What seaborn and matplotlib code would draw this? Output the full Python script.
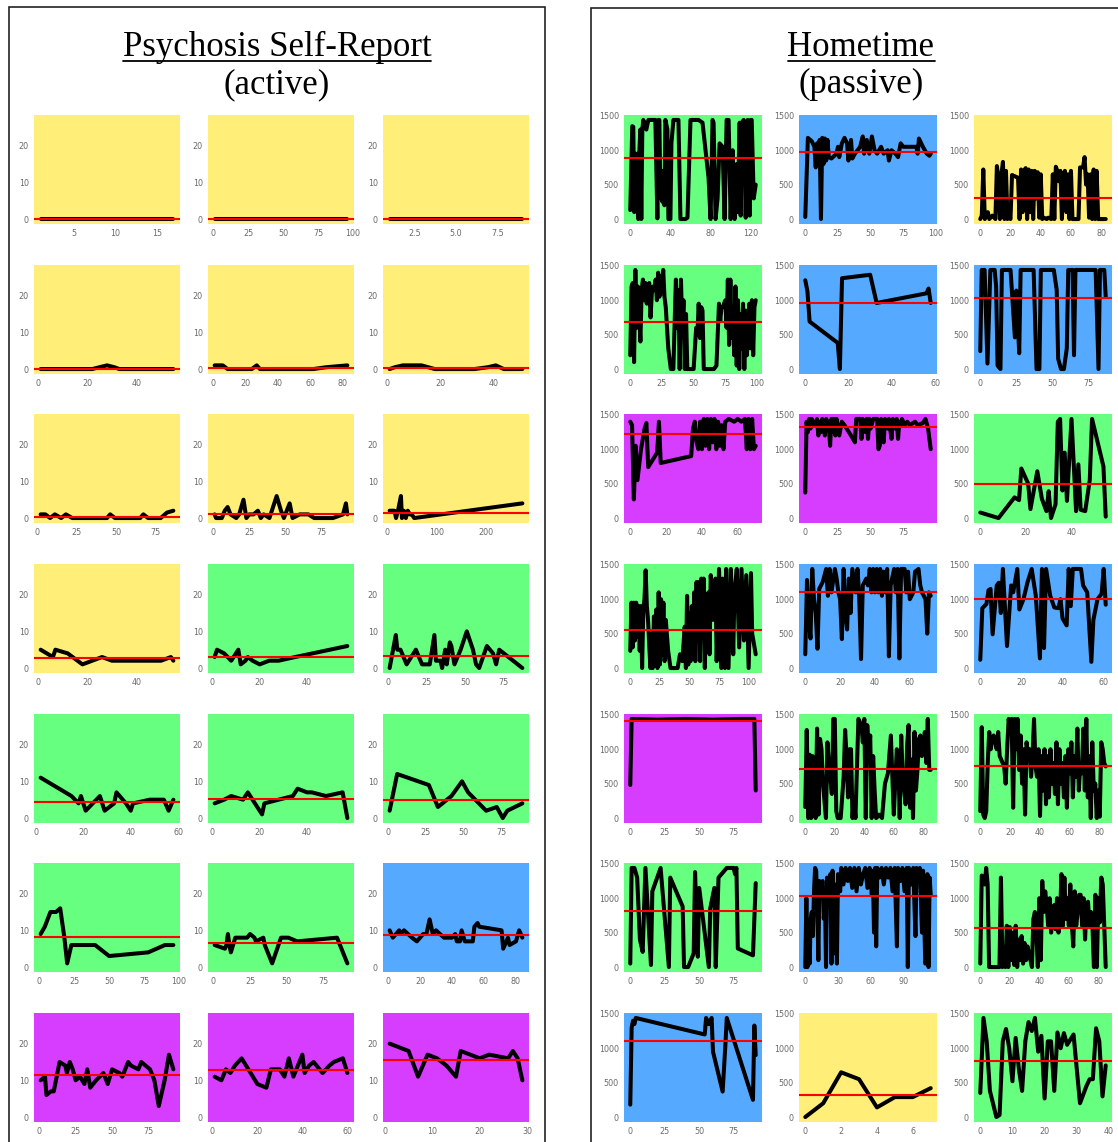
import matplotlib
matplotlib.use("Agg")
import matplotlib.pyplot as plt
import seaborn as sns
from matplotlib.lines import Line2D
from matplotlib.patches import Rectangle

W, H, DPI = 1118, 1142, 100

# ---------------- colours (status of each participant panel) ----------------
YEL, GRN, BLU, MAG = "#FFEE78", "#66FF80", "#55AAFF", "#D63DFF"

left_title = ["Psychosis Self-Report", "(active)"]
right_title = ["Hometime", "(passive)"]

# ---------------- Psychosis self-report series (day, score) -----------------
p11 = [(1, 0), (17, 0)]
p12 = [(1, 0), (96, 0)]
p13 = [(1, 0), (9, 0)]
p21 = [(1, 0), (22, 0), (25, 0.5), (28, 1), (31, 0.5), (33, 0), (55, 0)]
p22 = [(1, 1), (6, 1), (9, 0), (12, 0), (24, 0), (27, 1), (29, 0), (62, 0), (70, 0.5), (83, 1)]
p23 = [(1, 0), (3, 0.5), (6, 1), (13, 1), (18, 0), (33, 0), (38, 0.5), (41, 1), (44, 0), (51, 0)]
p31 = [(2, 1), (5, 1), (8, 0), (11, 1), (15, 0), (18, 1), (22, 0), (44, 0), (46, 1), (49, 0),
       (65, 0), (67, 1), (70, 0), (78, 0), (82, 1.5), (86, 2)]
p32 = [(1, 1), (2, 0), (6, 0), (8, 2), (10, 3), (12, 1), (16, 0), (18, 1), (21, 5), (23, 0),
       (25, 1), (28, 1), (31, 2), (33, 0), (35, 1), (39, 0), (44, 6), (47, 2), (49, 0), (53, 4),
       (55, 0), (60, 1), (66, 1), (70, 0), (83, 0), (90, 1), (92, 4), (93, 1)]
p33 = [(5, 2), (10, 2), (15, 2), (18, 0), (22, 2), (28, 6), (30, 0), (34, 2), (38, 0), (42, 2),
       (46, 1), (50, 1), (55, 0), (275, 4)]
p41 = [(1, 5), (6, 3), (7, 5), (12, 4), (18, 1), (22, 2), (26, 3), (30, 2), (40, 2), (50, 2),
       (54, 3), (55, 2)]
p42 = [(1, 3), (2, 5), (5, 4), (8, 2), (11, 5), (12, 1), (14, 2), (15, 3), (17, 2), (20, 1),
       (24, 2), (28, 2), (35, 3), (57, 6)]
p43 = [(1, 0), (5, 9), (6, 5), (8, 5), (12, 1), (15, 3), (18, 5), (20, 3), (22, 1), (27, 1),
       (30, 9), (31, 2), (34, 2), (35, 0), (37, 5), (38, 1), (40, 7), (41, 6), (43, 1), (47, 5),
       (51, 10), (55, 5), (57, 1), (59, 0), (64, 6), (68, 4), (70, 1), (72, 5), (75, 4), (87, 0)]
p51 = [(2, 11), (15, 6), (18, 4), (19, 6), (21, 2), (24, 4), (27, 6), (29, 2), (33, 4), (34, 7),
       (38, 4), (40, 2), (41, 4), (48, 5), (54, 5), (56, 2), (58, 5)]
p52 = [(1, 4), (5, 5), (8, 6), (13, 5), (15, 7), (18, 4), (21, 1), (22, 4), (28, 5), (34, 6),
       (36, 8), (40, 7), (42, 7), (48, 6), (55, 7), (57, 0)]
p53 = [(1, 2), (6, 12), (27, 9), (33, 3), (42, 6), (49, 10), (53, 7), (65, 2), (72, 3), (76, 0),
       (79, 2), (89, 4)]
p61 = [(1, 9), (4, 11), (8, 15), (12, 15), (15, 16), (18, 8), (20, 1), (23, 6), (40, 6), (50, 3),
       (78, 4), (90, 6), (96, 6)]
p62 = [(1, 6), (8, 5), (9, 6), (10, 9), (11, 6), (12, 4), (15, 8), (23, 8), (25, 9), (28, 8),
       (29, 7), (34, 8), (35, 6), (40, 1), (46, 8), (51, 8), (57, 7), (84, 8), (91, 1)]
p63 = [(1, 10), (3, 8), (7, 10), (8, 9), (10, 10), (15, 8), (18, 7), (22, 9), (24, 9), (26, 13),
       (28, 9), (30, 10), (35, 8), (40, 8), (42, 9), (43, 7), (45, 7), (46, 10), (48, 7), (53, 7),
       (54, 11), (56, 12), (57, 11), (71, 10), (72, 5), (75, 8), (76, 6), (80, 7), (82, 10), (84, 8)]
p71 = [(1, 10), (4, 11), (5, 6), (8, 7), (10, 7), (14, 15), (18, 14), (19, 12), (21, 15), (23, 13),
       (25, 10), (28, 11), (31, 9), (33, 13), (35, 8), (39, 10), (44, 12), (47, 9), (50, 13), (55, 12),
       (57, 11), (61, 15), (63, 14), (68, 13), (70, 15), (76, 13), (79, 10), (82, 3), (86, 10),
       (89, 17), (92, 13)]
p72 = [(1, 11), (4, 10), (6, 13), (8, 12), (10, 14), (13, 16), (16, 13), (20, 9), (24, 8), (26, 13),
       (30, 13), (32, 11), (34, 16), (36, 11), (40, 17), (41, 12), (43, 14), (45, 15), (49, 12),
       (52, 14), (54, 15), (58, 16), (60, 12)]
p73 = [(1, 20), (5, 18), (7, 11), (9, 17), (11, 16), (13, 14), (15, 11), (16, 18), (18, 17),
       (20, 16), (22, 17), (26, 16), (27, 18), (28, 16), (29, 10)]

psr_series = [p11, p12, p13, p21, p22, p23, p31, p32, p33, p41, p42, p43,
              p51, p52, p53, p61, p62, p63, p71, p72, p73]
psr_means = [0, 0, 0, 0.1, 0.3, 0.4, 0.4, 1.2, 1.4, 2.7, 3.0, 3.2,
             4.4, 5.2, 5.0, 8.2, 6.5, 8.8, 11.4, 12.8, 15.6]
psr_colors = [YEL, YEL, YEL, YEL, YEL, YEL, YEL, YEL, YEL, YEL, GRN, GRN,
              GRN, GRN, GRN, GRN, GRN, BLU, MAG, MAG, MAG]
psr_xticks = [[5, 10, 15], [0, 25, 50, 75, 100], [2.5, 5.0, 7.5],
              [0, 20, 40], [0, 20, 40, 60, 80], [0, 20, 40],
              [0, 25, 50, 75], [0, 25, 50, 75], [0, 100, 200],
              [0, 20, 40], [0, 20, 40], [0, 25, 50, 75],
              [0, 20, 40, 60], [0, 20, 40], [0, 25, 50, 75],
              [0, 25, 50, 75, 100], [0, 25, 50, 75], [0, 20, 40, 60, 80],
              [0, 25, 50, 75], [0, 20, 40, 60], [0, 10, 20, 30]]
psr_yticks = [0, 10, 20]
psr_ylim = (-1.35, 28.35)

# ---------------- Hometime series (day, minutes at home) ---------------------
h11 = [(0, 130), (2, 1350), (3, 1340), (4, 100), (5, 950), (6, 150), (7, 950), (8, 0), (9, 950),
       (10, 1300), (11, 0), (12, 1300), (13, 1440), (16, 1300), (18, 1440), (25, 1440), (27, 10),
       (28, 1440), (29, 1440), (30, 300), (31, 700), (32, 250), (33, 700), (34, 200), (35, 1440),
       (37, 1300), (38, 0), (40, 0), (41, 1100), (43, 1440), (48, 1440), (50, 0), (55, 0), (57, 20),
       (60, 1440), (68, 1440), (72, 1400), (78, 600), (80, 0), (82, 1440), (83, 1400), (85, 0),
       (87, 300), (89, 1100), (92, 1050), (94, 0), (96, 1440), (98, 1440), (100, 0), (102, 1000),
       (104, 0), (106, 800), (107, 100), (109, 1400), (110, 50), (111, 1400), (113, 1440),
       (115, 20), (117, 1440), (119, 50), (120, 1440), (121, 1440), (123, 300), (125, 500)]
h12 = [(0, 30), (2, 1180), (5, 1130), (7, 1050), (8, 750), (9, 1100), (10, 800), (11, 1150),
       (12, 0), (13, 1180), (14, 800), (15, 1170), (16, 850), (17, 1150), (18, 900), (20, 880),
       (24, 950), (25, 1050), (26, 900), (28, 1100), (30, 1180), (32, 1100), (33, 850), (35, 1150),
       (36, 880), (38, 950), (40, 1000), (42, 1050), (44, 1200), (45, 950), (47, 1150), (49, 950),
       (51, 1200), (53, 1000), (55, 950), (58, 1050), (60, 950), (63, 1000), (64, 850), (66, 1000),
       (69, 950), (71, 900), (73, 1100), (75, 1050), (85, 1050), (86, 950), (87, 1170), (90, 1050),
       (93, 950), (95, 920), (96, 950)]
h13 = [(0, 0), (1, 50), (2, 720), (3, 0), (4, 50), (5, 100), (6, 0), (8, 50), (10, 0), (11, 770),
       (12, 600), (13, 0), (14, 650), (15, 830), (16, 0), (17, 700), (18, 0), (19, 50), (20, 0),
       (21, 640), (23, 620), (25, 600), (26, 0), (27, 720), (28, 100), (29, 700), (30, 740), (31, 0),
       (32, 720), (33, 100), (34, 700), (35, 0), (36, 700), (37, 300), (38, 680), (39, 20),
       (40, 650), (41, 0), (42, 20), (44, 0), (45, 20), (47, 0), (48, 650), (49, 0), (50, 760),
       (51, 700), (52, 550), (53, 700), (54, 0), (55, 600), (56, 700), (57, 100), (58, 650),
       (59, 0), (60, 700), (61, 0), (63, 0), (65, 0), (66, 750), (68, 750), (69, 900), (70, 500),
       (71, 650), (72, 20), (73, 650), (74, 0), (75, 720), (76, 0), (77, 700), (78, 0), (80, 0),
       (82, 0), (83, 0)]
h21 = [(0, 200), (1, 1200), (2, 1250), (3, 100), (4, 1440), (5, 600), (6, 1200), (8, 400),
       (9, 1150), (10, 1300), (11, 1000), (12, 1250), (13, 950), (14, 1200), (15, 1250), (16, 750),
       (17, 1100), (18, 1200), (19, 1150), (20, 1300), (21, 1000), (22, 1400), (23, 1050),
       (24, 1350), (25, 1100), (26, 1440), (27, 1050), (28, 900), (30, 300), (32, 0), (34, 0),
       (36, 1300), (37, 600), (38, 1150), (39, 0), (40, 1300), (41, 600), (42, 1000), (43, 0),
       (44, 800), (45, 0), (47, 0), (50, 0), (52, 600), (53, 500), (54, 950), (55, 450), (56, 900),
       (57, 850), (58, 0), (60, 0), (66, 0), (68, 50), (70, 950), (71, 700), (72, 900), (73, 900),
       (75, 1000), (76, 600), (77, 1300), (78, 350), (79, 1300), (80, 450), (81, 900), (82, 200),
       (83, 1200), (84, 50), (85, 1000), (86, 0), (87, 800), (88, 300), (89, 950), (90, 0),
       (91, 850), (92, 200), (94, 950), (95, 300), (96, 1000), (97, 200), (98, 900), (99, 1000)]
h22 = [(0, 1290), (1, 1130), (2, 690), (15, 380), (16, 0), (17, 1320), (30, 1370), (33, 960),
       (56, 1100), (57, 1170), (58, 960)]
h23 = [(0, 260), (1, 1440), (3, 1440), (5, 80), (7, 1440), (10, 1440), (11, 1200), (12, 50),
       (14, 0), (15, 1440), (21, 1440), (24, 460), (25, 1140), (27, 230), (28, 1440), (37, 1440),
       (39, 0), (41, 0), (42, 1440), (51, 1440), (53, 1150), (54, 150), (56, 0), (58, 0), (60, 300),
       (61, 1440), (64, 1440), (65, 200), (66, 1440), (80, 1440), (82, 0), (83, 1440), (86, 1440),
       (87, 1050)]
h31 = [(0, 1400), (1, 1350), (2, 270), (3, 1050), (4, 550), (6, 1000), (8, 1300), (9, 1380),
       (10, 740), (15, 950), (16, 1400), (17, 800), (34, 900), (35, 1300), (36, 1400), (37, 1100),
       (38, 1000), (39, 1400), (40, 1000), (41, 1440), (42, 1050), (43, 1440), (44, 1000),
       (45, 1440), (46, 1100), (47, 1440), (48, 1000), (49, 1400), (50, 1050), (51, 1350),
       (52, 1000), (53, 1400), (55, 1440), (58, 1400), (60, 1440), (62, 1400), (64, 1440),
       (65, 1000), (66, 1440), (67, 1000), (68, 1440), (69, 1000), (70, 1050)]
h32 = [(0, 370), (1, 1400), (2, 1250), (3, 1440), (4, 1300), (5, 1440), (7, 1350), (9, 1440),
       (10, 1200), (11, 1400), (12, 1250), (13, 1440), (15, 1200), (16, 1440), (18, 1350),
       (19, 1050), (20, 1440), (21, 1250), (22, 1440), (23, 1200), (24, 1440), (26, 1200),
       (28, 1400), (30, 1350), (35, 1200), (38, 1100), (39, 1440), (42, 1440), (43, 1150),
       (44, 1440), (46, 1250), (47, 1440), (48, 1150), (49, 1440), (50, 1300), (52, 1440),
       (55, 1440), (56, 1000), (57, 1050), (58, 1440), (60, 1100), (61, 1440), (63, 1300),
       (64, 1440), (66, 1150), (67, 1440), (69, 1300), (70, 1440), (71, 1150), (72, 1400),
       (73, 1350), (74, 1440), (76, 1350), (78, 1400), (80, 1350), (84, 1400), (86, 1350),
       (90, 1380), (92, 1440), (94, 1300), (96, 1000)]
h33 = [(0, 80), (8, 0), (15, 300), (17, 260), (18, 720), (21, 500), (22, 130), (25, 680),
       (27, 280), (29, 100), (30, 390), (31, 0), (33, 200), (34, 1400), (35, 1440), (36, 400),
       (37, 950), (38, 250), (40, 1440), (42, 100), (43, 780), (44, 120), (46, 100), (48, 550),
       (49, 1440), (54, 750), (55, 20)]
h41 = [(0, 250), (1, 950), (2, 300), (3, 950), (4, 400), (5, 950), (6, 450), (7, 900), (8, 250),
       (9, 900), (10, 0), (11, 850), (12, 1000), (13, 1420), (14, 900), (15, 700), (17, 0),
       (18, 500), (19, 0), (20, 750), (21, 100), (22, 850), (23, 0), (24, 1100), (25, 50),
       (26, 1000), (27, 200), (28, 950), (29, 100), (30, 700), (32, 250), (34, 0), (40, 0),
       (42, 200), (44, 100), (46, 600), (47, 0), (48, 1050), (49, 50), (50, 800), (51, 100),
       (52, 900), (53, 200), (54, 1100), (55, 100), (56, 1250), (57, 400), (58, 1250), (59, 100),
       (60, 1300), (61, 550), (62, 1300), (63, 0), (64, 1000), (65, 550), (66, 1100), (67, 200),
       (68, 1350), (70, 700), (72, 1300), (73, 100), (75, 1440), (77, 0), (78, 1300), (80, 0),
       (81, 1440), (83, 0), (85, 1440), (87, 200), (88, 1100), (90, 1440), (92, 300), (94, 1440),
       (96, 400), (98, 1350), (100, 0), (102, 1380), (103, 500), (104, 400), (106, 200)]
h42 = [(0, 200), (1, 1280), (2, 700), (3, 430), (4, 1440), (5, 1000), (6, 800), (7, 280),
       (8, 1150), (10, 1250), (12, 1440), (13, 1050), (14, 1440), (15, 1100), (17, 1440),
       (18, 1300), (19, 1100), (20, 1000), (21, 420), (22, 1440), (23, 800), (24, 560), (25, 1300),
       (26, 800), (27, 1440), (29, 1100), (30, 1440), (31, 1000), (32, 130), (33, 1200), (35, 1300),
       (36, 1200), (37, 1440), (38, 1100), (39, 1440), (40, 1100), (41, 1440), (42, 1100),
       (43, 1440), (44, 1050), (45, 1400), (46, 1100), (47, 1440), (48, 170), (49, 1200),
       (51, 1440), (52, 1100), (53, 1440), (54, 140), (55, 1440), (57, 1440), (58, 1100),
       (59, 1400), (60, 1000), (62, 1100), (63, 1400), (65, 1440), (66, 1200), (67, 1100),
       (69, 1000), (70, 500), (71, 1100), (72, 1050)]
h43 = [(0, 120), (1, 870), (3, 930), (4, 1130), (5, 1150), (6, 490), (8, 1200), (9, 1240),
       (10, 800), (11, 1440), (13, 320), (15, 1200), (16, 1100), (18, 1440), (19, 850), (21, 1000),
       (23, 1250), (25, 1440), (27, 1050), (29, 140), (30, 1440), (31, 290), (32, 1440), (34, 1050),
       (36, 880), (38, 870), (39, 1000), (40, 720), (42, 620), (43, 1440), (44, 900), (45, 1440),
       (47, 1440), (49, 1440), (50, 1200), (52, 1100), (54, 90), (55, 700), (57, 1000), (59, 1080),
       (60, 1440), (61, 920)]
h51 = [(0, 480), (1, 1440), (20, 1430), (40, 1440), (60, 1430), (80, 1440), (90, 1440), (91, 400)]
h52 = [(0, 160), (1, 1280), (2, 0), (3, 920), (4, 0), (5, 900), (6, 500), (7, 0), (8, 1300),
       (9, 50), (10, 1150), (11, 1000), (12, 500), (14, 0), (15, 1100), (16, 800), (18, 350),
       (19, 1440), (20, 1440), (21, 100), (22, 0), (24, 0), (26, 600), (27, 1280), (28, 900),
       (29, 300), (30, 1000), (31, 1000), (32, 0), (33, 300), (34, 0), (36, 1440), (38, 1350),
       (39, 1100), (40, 1440), (41, 0), (42, 1350), (43, 900), (44, 1200), (45, 0), (46, 900),
       (47, 400), (48, 0), (49, 20), (50, 50), (52, 0), (54, 500), (56, 650), (58, 1200), (59, 600),
       (60, 50), (62, 1000), (63, 900), (64, 0), (65, 1200), (66, 600), (68, 200), (69, 1050),
       (70, 1350), (71, 150), (72, 850), (73, 0), (74, 1250), (75, 400), (76, 700), (77, 1150),
       (78, 1200), (79, 900), (80, 1000), (81, 1250), (82, 800), (83, 1440), (84, 700), (85, 700)]
h53 = [(0, 100), (1, 1320), (2, 50), (3, 0), (4, 100), (5, 800), (6, 1250), (7, 1000), (8, 1150),
       (9, 1200), (10, 1100), (11, 1000), (12, 1250), (13, 900), (14, 850), (16, 750), (17, 500),
       (18, 1000), (19, 1440), (20, 1300), (21, 1440), (22, 150), (23, 1440), (24, 1000),
       (25, 1440), (26, 700), (27, 1200), (28, 500), (29, 1000), (30, 50), (31, 1100), (32, 900),
       (33, 1000), (34, 600), (35, 900), (36, 1440), (37, 750), (38, 600), (39, 1000), (40, 30),
       (41, 900), (42, 400), (43, 1000), (44, 200), (45, 900), (46, 300), (47, 1000), (48, 500),
       (49, 800), (50, 350), (51, 1100), (52, 200), (53, 1000), (54, 500), (55, 800), (56, 300),
       (57, 900), (58, 150), (59, 1000), (60, 650), (61, 1100), (62, 300), (63, 900), (64, 600),
       (65, 1300), (66, 400), (67, 800), (68, 650), (69, 1300), (70, 400), (71, 1440), (72, 300),
       (73, 900), (74, 0), (75, 1100), (76, 400), (77, 500), (78, 0), (79, 400), (80, 20),
       (81, 1100), (82, 1000), (83, 800), (84, 750)]
h61 = [(0, 50), (1, 1440), (3, 1440), (5, 1300), (7, 400), (9, 220), (11, 1440), (15, 30),
       (16, 1100), (22, 1440), (28, 0), (29, 1300), (38, 880), (39, 0), (42, 0), (46, 200),
       (47, 1380), (49, 150), (50, 1150), (57, 0), (58, 850), (61, 1150), (62, 0), (64, 1300),
       (70, 1440), (75, 1440), (76, 1350), (77, 1440), (78, 270), (89, 170), (91, 1220)]
h62 = [(0, 0), (1, 1000), (2, 0), (3, 400), (4, 50), (5, 700), (6, 800), (7, 450), (8, 1100),
       (9, 1440), (10, 1400), (11, 900), (12, 100), (13, 1250), (14, 1200), (16, 1250), (17, 700),
       (18, 1100), (19, 0), (20, 1300), (21, 1000), (22, 900), (23, 1350), (24, 50), (25, 1400),
       (26, 1000), (27, 200), (28, 1200), (29, 50), (30, 1350), (32, 1100), (33, 1440), (35, 1200),
       (37, 1440), (39, 1250), (41, 1440), (43, 1150), (45, 1440), (47, 1100), (49, 1440),
       (51, 1200), (53, 1350), (55, 1440), (57, 1150), (59, 1440), (61, 1050), (62, 1400),
       (63, 500), (64, 1440), (65, 300), (66, 1440), (68, 1300), (70, 1440), (72, 1200),
       (74, 1440), (76, 1300), (78, 1440), (80, 1100), (82, 1440), (84, 300), (85, 1440),
       (87, 1250), (89, 1440), (91, 1100), (93, 1440), (94, 0), (95, 1440), (97, 1200), (99, 1440),
       (101, 450), (102, 1440), (104, 1300), (105, 1440), (107, 500), (108, 1400), (110, 50),
       (111, 100), (112, 1350), (113, 0), (114, 1300), (115, 1050)]
h63 = [(0, 50), (1, 1330), (2, 1300), (3, 1200), (4, 1440), (5, 1200), (6, 0), (8, 0), (13, 0),
       (14, 1300), (15, 0), (16, 50), (17, 0), (18, 600), (19, 0), (20, 580), (21, 100), (22, 500),
       (23, 30), (24, 600), (25, 0), (26, 400), (27, 100), (28, 450), (29, 50), (30, 350),
       (31, 100), (32, 300), (33, 200), (34, 100), (35, 0), (36, 700), (37, 800), (38, 500),
       (39, 0), (40, 1000), (41, 100), (42, 1250), (43, 800), (44, 1100), (45, 900), (46, 600),
       (47, 1000), (48, 500), (49, 850), (50, 900), (51, 550), (52, 1000), (53, 500), (54, 700),
       (55, 1350), (56, 600), (57, 1300), (58, 700), (59, 1000), (60, 600), (61, 1200), (62, 650),
       (63, 300), (64, 1100), (65, 600), (66, 800), (67, 1050), (68, 1050), (69, 600), (70, 1000),
       (71, 400), (72, 900), (73, 950), (74, 600), (75, 800), (76, 600), (77, 0), (78, 1050),
       (79, 0), (80, 1000), (81, 650), (82, 1300), (83, 1200), (84, 600), (85, 0)]
h71 = [(0, 180), (1, 1300), (2, 1400), (3, 1350), (4, 1440), (54, 1200), (55, 1440), (57, 1350),
       (59, 1440), (60, 950), (67, 370), (69, 1050), (70, 1440), (89, 250), (90, 1330), (91, 900)]
h72 = [(0, 0), (1, 200), (2, 650), (3, 550), (4, 140), (5, 290), (6, 290), (7, 420)]
h73 = [(0, 350), (1, 1440), (2, 1100), (3, 380), (5, 0), (6, 30), (7, 1100), (8, 1280), (9, 1000),
       (10, 520), (11, 1150), (12, 700), (13, 380), (14, 1100), (15, 1380), (16, 1250), (17, 1440),
       (18, 950), (19, 1180), (20, 270), (21, 1100), (22, 1100), (23, 380), (24, 1230), (25, 1000),
       (26, 1220), (27, 1050), (29, 1200), (31, 200), (33, 450), (34, 550), (35, 550), (36, 1290),
       (37, 1100), (38, 300), (39, 750)]

ht_series = [h11, h12, h13, h21, h22, h23, h31, h32, h33, h41, h42, h43,
             h51, h52, h53, h61, h62, h63, h71, h72, h73]
ht_means = [890, 975, 310, 690, 960, 1030, 1220, 1320, 495, 560, 1110, 1010,
            1410, 710, 755, 810, 1035, 570, 1100, 320, 820]
ht_colors = [GRN, BLU, YEL, GRN, BLU, BLU, MAG, MAG, GRN, GRN, BLU, BLU,
             MAG, GRN, GRN, GRN, BLU, GRN, BLU, YEL, GRN]
ht_xticks = [[0, 40, 80, 120], [0, 25, 50, 75, 100], [0, 20, 40, 60, 80],
             [0, 25, 50, 75, 100], [0, 20, 40, 60], [0, 25, 50, 75],
             [0, 20, 40, 60], [0, 25, 50, 75], [0, 20, 40],
             [0, 25, 50, 75, 100], [0, 20, 40, 60], [0, 20, 40, 60],
             [0, 25, 50, 75], [0, 20, 40, 60, 80], [0, 20, 40, 60, 80],
             [0, 25, 50, 75], [0, 30, 60, 90], [0, 20, 40, 60, 80],
             [0, 25, 50, 75], [0, 2, 4, 6], [0, 10, 20, 30, 40]]
ht_yticks = [0, 500, 1000, 1500]
ht_ylim = (-72, 1512)

# ---------------- layout (pixels) ----------------
row_y = [115, 265, 414, 564, 714, 863, 1013]
ax_h = 109
left_x = [34, 208, 383]
left_w = 146
right_x = [624, 799, 974]
right_w = 138

sns.set_style("white")
plt.rcParams["font.family"] = ["DejaVu Sans"]

fig = plt.figure(figsize=(W / DPI, H / DPI), dpi=DPI)


def fx(px):
    return px / W


def fy(py):
    return 1 - py / H


def draw_panel(series, means, colors, xticks, yticks, ylim, xs, w):
    for i, pts in enumerate(series):
        r, c = divmod(i, 3)
        ax = fig.add_axes([fx(xs[c]), fy(row_y[r] + ax_h), fx(w), ax_h / H])
        ax.set_facecolor(colors[i])
        xv = [p[0] for p in pts]
        yv = [p[1] for p in pts]
        sns.lineplot(x=xv, y=yv, ax=ax, color="black", linewidth=2.9,
                     estimator=None, sort=False)
        ax.axhline(means[i], color="red", linewidth=1.5)
        for s in ax.spines.values():
            s.set_visible(False)
        ax.set_xticks(xticks[i])
        ax.set_yticks(yticks)
        lo, hi = min(xv), max(xv)
        m = (hi - lo) * 0.05
        ax.set_xlim(lo - m, hi + m)
        ax.set_ylim(*ylim)
        ax.tick_params(axis="both", labelsize=5.8, colors="#888888", labelcolor="#6a6a6a",
                       length=2.2, width=0.6, pad=1.5)
        ax.set_xlabel("")
        ax.set_ylabel("")


draw_panel(psr_series, psr_means, psr_colors, psr_xticks, psr_yticks, psr_ylim, left_x, left_w)
draw_panel(ht_series, ht_means, ht_colors, ht_xticks, ht_yticks, ht_ylim, right_x, right_w)

# ---------------- panel frames ----------------
fig.patches.append(Rectangle((fx(9), fy(1160)), fx(545 - 9), (1160 - 7) / H,
                             transform=fig.transFigure, fill=False, edgecolor="#222222",
                             linewidth=1.2, zorder=0))
fig.patches.append(Rectangle((fx(591), fy(1160)), fx(1140 - 591), (1160 - 8) / H,
                             transform=fig.transFigure, fill=False, edgecolor="#222222",
                             linewidth=1.2, zorder=0))

# ---------------- titles ----------------
serif = ["Liberation Serif", "DejaVu Serif"]
titles = []
for cx, (t1, t2) in [(277, left_title), (861, right_title)]:
    a = fig.text(fx(cx), fy(56), t1, ha="center", va="baseline", fontsize=25,
                 family=serif, color="black")
    fig.text(fx(cx), fy(93), t2, ha="center", va="baseline", fontsize=25,
             family=serif, color="black")
    titles.append(a)

fig.canvas.draw()
renderer = fig.canvas.get_renderer()
for a in titles:
    bb = a.get_window_extent(renderer)
    fig.lines.append(Line2D([bb.x0 / W, bb.x1 / W], [fy(61), fy(61)],
                            transform=fig.transFigure, color="black", linewidth=1.3))

fig.savefig("out.png", dpi=DPI)
